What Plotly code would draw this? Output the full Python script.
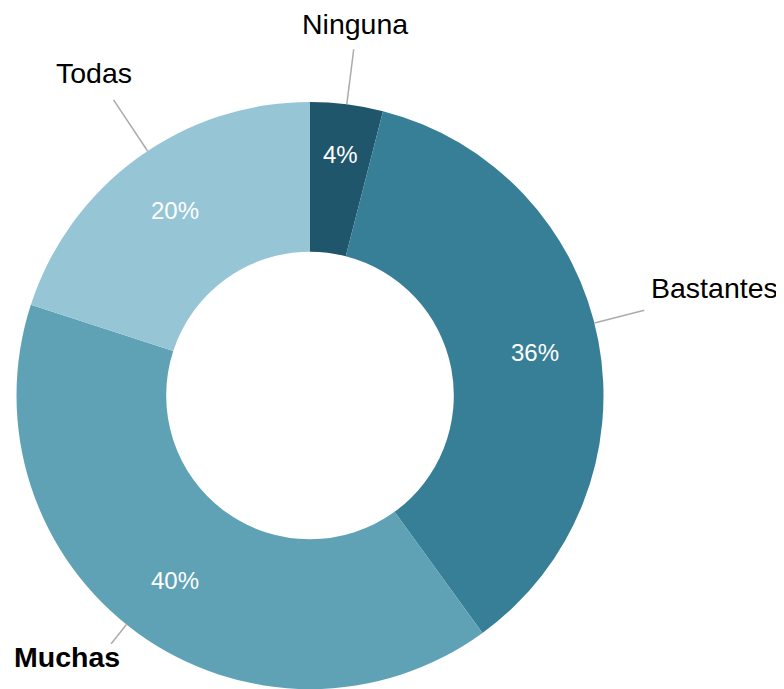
import math
import plotly.graph_objects as go

# ---- data ----
categories = ["Ninguna", "Bastantes", "Muchas", "Todas"]
values = [4, 36, 40, 20]
colors = ["#1F566B", "#377F97", "#5FA2B6", "#96C6D6"]
bold_labels = ["Muchas"]

# ---- layout geometry (page pixels) ----
PAGE_W, PAGE_H = 784, 689
OFF = 8                      # default body margin of the html page
FW, FH = PAGE_W - OFF, PAGE_H - OFF
CX, CY, R = 310, 395.5, 293.5
HOLE = 0.49
LABEL_FONT = "Liberation Sans, Arial, sans-serif"

# leader-line / label placement tweaks
label_style = {
    "Ninguna":   dict(dang=0.0,  r_end=349, dx=1,   dy=-25, xanchor="center"),
    "Bastantes": dict(dang=-3.5, r_end=345, dx=5,   dy=-22, xanchor="left"),
    "Muchas":    dict(dang=2.7,  r_end=318, dx=11,  dy=13,  xanchor="right"),
    "Todas":     dict(dang=2.4,  r_end=355, dx=-20, dy=-27, xanchor="center"),
}
pct_radius = {"Ninguna": 243}
PCT_R_DEFAULT = 229


def px(x):
    return (x - OFF) / FW


def py(y):
    return 1 - (y - OFF) / FH


fig = go.Figure(go.Pie(
    labels=categories,
    values=values,
    marker=dict(colors=colors, line=dict(width=0)),
    hole=HOLE,
    sort=False,
    direction="clockwise",
    rotation=0,
    textinfo="none",
    hoverinfo="label+percent",
    showlegend=False,
    domain=dict(x=[px(CX - R), px(CX + R)], y=[0, py(CY - R)]),
))

total = sum(values)
shapes = []
annotations = []
cum = 0
for cat, val in zip(categories, values):
    mid = (cum + val / 2) / total * 360
    cum += val
    st = label_style[cat]
    a = math.radians(mid + st["dang"])
    x0, y0 = CX + R * math.sin(a), CY - R * math.cos(a)
    x1, y1 = CX + st["r_end"] * math.sin(a), CY - st["r_end"] * math.cos(a)
    shapes.append(dict(type="line", xref="paper", yref="paper",
                       x0=px(x0), y0=py(y0), x1=px(x1), y1=py(y1),
                       line=dict(color="#ABABAB", width=1.5)))
    txt = f"<b>{cat}</b>" if cat in bold_labels else cat
    annotations.append(dict(text=txt, xref="paper", yref="paper",
                            x=px(x1 + st["dx"]), y=py(y1 + st["dy"]),
                            xanchor=st["xanchor"], yanchor="middle",
                            showarrow=False,
                            font=dict(family=LABEL_FONT, size=28.5, color="#000000")))
    # percentage label inside the ring
    rp = pct_radius.get(cat, PCT_R_DEFAULT)
    am = math.radians(mid)
    annotations.append(dict(text=f"{round(val / total * 100)}%", xref="paper", yref="paper",
                            x=px(CX + rp * math.sin(am)), y=py(CY - rp * math.cos(am)),
                            xanchor="center", yanchor="middle", showarrow=False,
                            font=dict(family=LABEL_FONT, size=24, color="#FFFFFF")))

fig.update_layout(
    width=FW, height=FH,
    margin=dict(l=0, r=0, t=0, b=0),
    paper_bgcolor="white",
    plot_bgcolor="white",
    shapes=shapes,
    annotations=annotations,
)

fig.write_html("out.html")
